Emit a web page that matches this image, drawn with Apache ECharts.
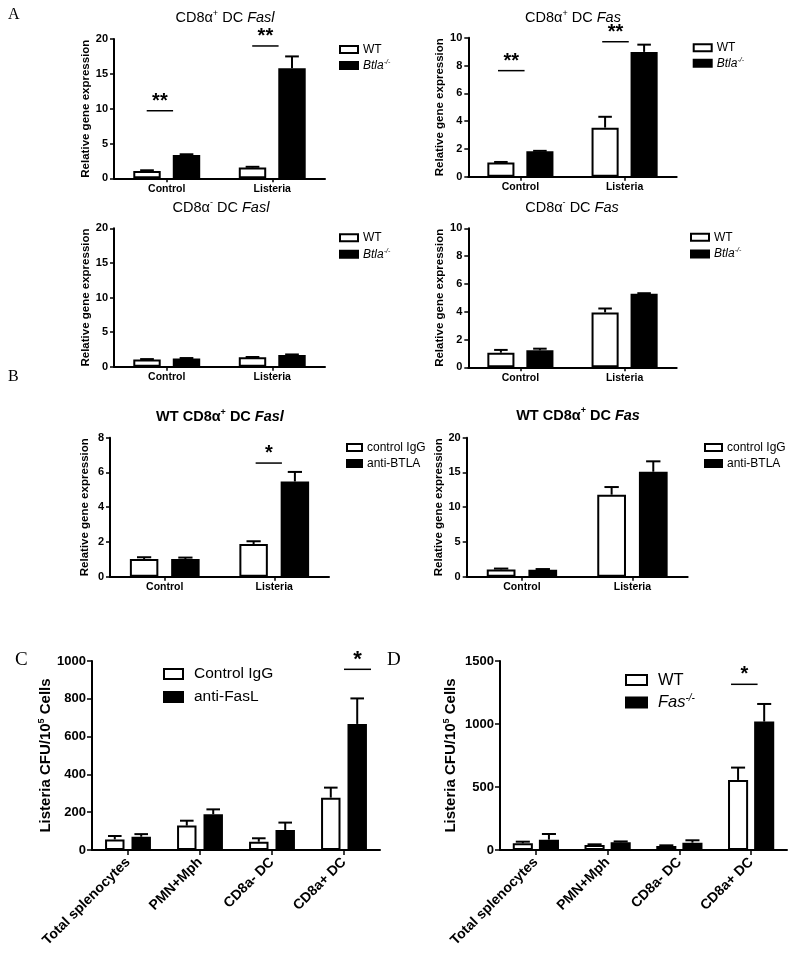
<!DOCTYPE html>
<html><head><meta charset="utf-8">
<script src="https://cdn.jsdelivr.net/npm/echarts@6/dist/echarts.min.js"></script>
<style>html,body{margin:0;padding:0;background:#fff}#c{width:795px;height:960px}</style>
</head><body><div id="c"></div>
<script>
// ---------- data ----------
const catsAB = ['Control', 'Listeria'];
const catsCD = ['Total splenocytes', 'PMN+Mph', 'CD8a- DC', 'CD8a+ DC'];

// A1: CD8a+ DC Fasl
const a1Wt = [1.05, 1.55], a1WtErr = [0.1, 0.1];
const a1Ko = [3.35, 15.8], a1KoErr = [0.1, 1.7];
const a1Sig = [[0, 9.7, '**'], [1, 19.0, '**']];
// A2: CD8a+ DC Fas
const a2Wt = [1.03, 3.53], a2WtErr = [0.03, 0.78];
const a2Ko = [1.83, 8.98], a2KoErr = [0.03, 0.52];
const a2Sig = [[0, 7.63, '**'], [1, 9.71, '**']];
// A3: CD8a- DC Fasl
const a3Wt = [1.05, 1.35], a3WtErr = [0.05, 0.05];
const a3Ko = [1.2, 1.7], a3KoErr = [0.05, 0.07];
// A4: CD8a- DC Fas
const a4Wt = [1.05, 3.95], a4WtErr = [0.2, 0.28];
const a4Ko = [1.22, 5.3], a4KoErr = [0.12, 0.03];
// B1: WT CD8a+ DC Fasl
const b1Ctl = [1.02, 1.88], b1CtlErr = [0.1, 0.16];
const b1Ab = [1.02, 5.48], b1AbErr = [0.08, 0.55];
const b1Sig = [[1, 6.54, '*']];
// B2: WT CD8a+ DC Fas
const b2Ctl = [1.05, 11.8], b2CtlErr = [0.12, 1.1];
const b2Ab = [1.0, 15.1], b2AbErr = [0.1, 1.5];
// C
const cCtl = [56, 129, 44, 277], cCtlErr = [18, 26, 18, 53];
const cAb = [70, 189, 106, 667], cAbErr = [14, 26, 39, 135];
const cSig = [[3, 956, '*']];
// D
const dWt = [53, 40, 32, 556], dWtErr = [13, 5, 5, 98];
const dKo = [82, 61, 58, 1019], dKoErr = [45, 7, 19, 140];
const dSig = [[3, 1315, '*']];

// ---------- helpers ----------
const F = 'Liberation Sans, Arial, sans-serif';
const FS = 'Liberation Serif, Times New Roman, serif';

function errItem(side, bwF, gapF, capF) {
  return function (params, api) {
    const c = api.value(0), v = api.value(1), e = api.value(2);
    const band = api.size([1, 0])[0];
    const bw = band * bwF;
    const x = api.coord([c, 0])[0] + side * bw * (1 + gapF) / 2;
    const y0 = api.coord([c, v])[1], y1 = api.coord([c, v + e])[1];
    const hc = bw * capF / 2;
    return { type: 'group', children: [
      { type: 'line', shape: { x1: x, y1: y0, x2: x, y2: y1 }, style: { stroke: '#000', lineWidth: 2 } },
      { type: 'line', shape: { x1: x - hc, y1: y1, x2: x + hc, y2: y1 }, style: { stroke: '#000', lineWidth: 2 } }
    ] };
  };
}
function sigItem(sig, f1, f2, fs, dy) {
  return function (params, api) {
    const c = api.value(0), y = api.value(1);
    const band = api.size([1, 0])[0];
    const cx = api.coord([c, 0])[0];
    const yy = api.coord([c, y])[1];
    const x1 = cx + f1 * band, x2 = cx + f2 * band;
    return { type: 'group', children: [
      { type: 'line', shape: { x1: x1, y1: yy, x2: x2, y2: yy }, style: { stroke: '#000', lineWidth: 1.5 } },
      { type: 'text', x: (x1 + x2) / 2, y: yy - dy, style: { text: sig[params.dataIndex][2], align: 'center', verticalAlign: 'middle', font: 'bold ' + fs + 'px ' + F, fill: '#000' } }
    ] };
  };
}

const panels = [
  { grid: { left: 114, top: 39, width: 211, height: 139.3 }, cats: catsAB, max: 20, interval: 5,
    n1: 'WT', d1: a1Wt, e1: a1WtErr, n2: 'Btla-/-', d2: a1Ko, e2: a1KoErr, sig: a1Sig, sf: [-0.19, 0.06], sfs: 20,
    bw: 0.26, gap: 0.44, cap: 0.5, type: 'A', ng: 19 },
  { grid: { left: 468.3, top: 37.7, width: 208.4, height: 139 }, cats: catsAB, max: 10, interval: 2,
    n1: 'WT', d1: a2Wt, e1: a2WtErr, n2: 'Btla-/-', d2: a2Ko, e2: a2KoErr, sig: a2Sig, sf: [-0.215, 0.04], sfs: 20,
    bw: 0.26, gap: 0.44, cap: 0.5, type: 'A', ng: 20 },
  { grid: { left: 114, top: 228.3, width: 211, height: 138.4 }, cats: catsAB, max: 20, interval: 5,
    n1: 'WT', d1: a3Wt, e1: a3WtErr, n2: 'Btla-/-', d2: a3Ko, e2: a3KoErr, sig: null,
    bw: 0.26, gap: 0.44, cap: 0.5, type: 'A', ng: 19 },
  { grid: { left: 468.3, top: 228.3, width: 208.4, height: 139 }, cats: catsAB, max: 10, interval: 2,
    n1: 'WT', d1: a4Wt, e1: a4WtErr, n2: 'Btla-/-', d2: a4Ko, e2: a4KoErr, sig: null,
    bw: 0.26, gap: 0.44, cap: 0.5, type: 'A', ng: 20 },
  { grid: { left: 110, top: 437.7, width: 219, height: 139 }, cats: catsAB, max: 8, interval: 2,
    n1: 'control IgG', d1: b1Ctl, e1: b1CtlErr, n2: 'anti-BTLA', d2: b1Ab, e2: b1AbErr, sig: b1Sig, sf: [-0.17, 0.07], sfs: 20,
    bw: 0.26, gap: 0.45, cap: 0.5, type: 'A', ng: 19 },
  { grid: { left: 466.7, top: 437.7, width: 221, height: 139 }, cats: catsAB, max: 20, interval: 5,
    n1: 'control IgG', d1: b2Ctl, e1: b2CtlErr, n2: 'anti-BTLA', d2: b2Ab, e2: b2AbErr, sig: null,
    bw: 0.26, gap: 0.45, cap: 0.5, type: 'A', ng: 19 },
  { grid: { left: 92, top: 661, width: 288, height: 189 }, cats: catsCD, max: 1000, interval: 200,
    n1: 'Control IgG', d1: cCtl, e1: cCtlErr, n2: 'anti-FasL', d2: cAb, e2: cAbErr, sig: cSig, sf: [0.0, 0.375], sfs: 22,
    bw: 0.27, gap: 0.36, cap: 0.7, type: 'C', ng: 37 },
  { grid: { left: 500, top: 661, width: 287, height: 189 }, cats: catsCD, max: 1500, interval: 500,
    n1: 'WT', d1: dWt, e1: dWtErr, n2: 'Fas-/-', d2: dKo, e2: dKoErr, sig: dSig, sf: [-0.28, 0.09], sfs: 20,
    bw: 0.28, gap: 0.30, cap: 0.7, type: 'C', ng: 40 }
];

const grids = [], xAxes = [], yAxes = [], series = [];
panels.forEach((p, i) => {
  const isA = p.type === 'A';
  grids.push(Object.assign({ containLabel: false, outerBoundsMode: 'none' }, p.grid));
  xAxes.push({
    gridIndex: i, type: 'category', data: p.cats,
    axisLine: { show: true, lineStyle: { color: '#000', width: 2 } },
    axisTick: { show: true, alignWithLabel: true, interval: 0, length: isA ? 4 : 5, lineStyle: { color: '#000', width: 1.5 } },
    axisLabel: { interval: 0, color: '#000', fontWeight: 'bold', fontFamily: F, fontSize: isA ? 10.5 : 14, margin: isA ? 5 : 10, rotate: isA ? 0 : 45 },
    splitLine: { show: false }
  });
  const yName = isA ? 'Relative gene expression' : '{b|Listeria CFU/10}{s|5}{b| Cells}';
  yAxes.push({
    gridIndex: i, type: 'value', min: 0, max: p.max, interval: p.interval,
    axisLine: { show: true, lineStyle: { color: '#000', width: 2 } },
    axisTick: { show: true, length: isA ? 4 : 5, lineStyle: { color: '#000', width: 1.5 } },
    axisLabel: { color: '#000', fontWeight: 'bold', fontFamily: F, fontSize: isA ? 11 : 13, margin: 6,
      formatter: function (v) { return String(v); } },
    splitLine: { show: false },
    name: yName, nameLocation: 'middle', nameGap: p.ng,
    nameTextStyle: isA
      ? { color: '#000', fontWeight: 'bold', fontFamily: F, fontSize: 11.5 }
      : { color: '#000', fontFamily: F, rich: {
          b: { fontWeight: 'bold', fontFamily: F, fontSize: 15, lineHeight: 18, color: '#000' },
          s: { fontWeight: 'bold', fontFamily: F, fontSize: 9, lineHeight: 9, verticalAlign: 'top', color: '#000' } } }
  });
  const wBW = (p.bw * 100) + '%', gBW = (p.gap * 100) + '%';
  series.push({ type: 'bar', name: p.n1, xAxisIndex: i, yAxisIndex: i, data: p.d1, barWidth: wBW, barGap: gBW,
    itemStyle: { color: '#fff', borderColor: '#000', borderWidth: 2 }, emphasis: { disabled: true } });
  series.push({ type: 'bar', name: p.n2, xAxisIndex: i, yAxisIndex: i, data: p.d2, barWidth: wBW, barGap: gBW,
    itemStyle: { color: '#000', borderColor: '#000', borderWidth: 2 }, emphasis: { disabled: true } });
  series.push({ type: 'custom', name: 'err1_' + i, xAxisIndex: i, yAxisIndex: i, clip: false,
    data: p.d1.map((v, k) => [k, v, p.e1[k]]), renderItem: errItem(-1, p.bw, p.gap, p.cap), z: 3 });
  series.push({ type: 'custom', name: 'err2_' + i, xAxisIndex: i, yAxisIndex: i, clip: false,
    data: p.d2.map((v, k) => [k, v, p.e2[k]]), renderItem: errItem(1, p.bw, p.gap, p.cap), z: 3 });
  if (p.sig) {
    series.push({ type: 'custom', name: 'sig_' + i, xAxisIndex: i, yAxisIndex: i, clip: false,
      data: p.sig.map(s => [s[0], s[1]]), renderItem: sigItem(p.sig, p.sf[0], p.sf[1], p.sfs, 9.5), z: 3 });
  }
});

// legends
function leg(name, x, cy, fs, iw, ih, lh, pad) {
  const base = name.replace('-/-', '');
  const isSup = name.endsWith('-/-');
  return {
    show: true, orient: 'vertical', left: x, top: cy - lh / 2, padding: 0, itemGap: 0,
    data: [name], itemWidth: iw, itemHeight: ih, selectedMode: false, icon: 'rect',
    formatter: isSup ? ('{i|' + base + '}{s|-/-}') : name,
    textStyle: { color: '#000', fontFamily: F, fontSize: fs, lineHeight: lh, padding: [0, 0, 0, pad],
      rich: {
        i: { fontStyle: 'italic', fontFamily: F, fontSize: fs, lineHeight: lh, color: '#000' },
        s: { fontStyle: 'italic', fontFamily: F, fontSize: Math.round(fs * 0.6), lineHeight: Math.round(fs * 0.6), verticalAlign: 'top', color: '#000' }
      } }
  };
}
const legends = [
  leg('WT', 339, 49.5, 12, 18, 7, 14, 0), leg('Btla-/-', 339, 65.5, 12, 18, 7, 14, 0),
  leg('WT', 692.7, 47.8, 12, 18, 7, 14, 0), leg('Btla-/-', 692.7, 63.3, 12, 18, 7, 14, 0),
  leg('WT', 339, 237.8, 12, 18, 7, 14, 0), leg('Btla-/-', 339, 254.2, 12, 18, 7, 14, 0),
  leg('WT', 690, 237.2, 12, 18, 7, 14, 0), leg('Btla-/-', 690, 254, 12, 18, 7, 14, 0),
  leg('control IgG', 346, 447.5, 12, 15, 7, 14, 0), leg('anti-BTLA', 346, 463.5, 12, 15, 7, 14, 0),
  leg('control IgG', 704, 447.5, 12, 17, 7, 14, 0), leg('anti-BTLA', 704, 463.5, 12, 17, 7, 14, 0),
  leg('Control IgG', 163, 674, 15.5, 19, 10, 18, 6), leg('anti-FasL', 163, 697, 15.5, 19, 10, 18, 6),
  leg('WT', 625, 680, 16.5, 21, 10, 19, 6), leg('Fas-/-', 625, 702.5, 16.5, 21, 10, 19, 6)
];

// titles & panel letters
const richT = (bold) => ({
  n: { fontFamily: F, fontSize: 14.5, fontWeight: bold ? 'bold' : 'normal', lineHeight: 18, fill: '#000' },
  s: { fontFamily: F, fontSize: 9, fontWeight: bold ? 'bold' : 'normal', lineHeight: 9, verticalAlign: 'top', fill: '#000' },
  i: { fontFamily: F, fontSize: 14.5, fontStyle: 'italic', fontWeight: bold ? 'bold' : 'normal', lineHeight: 18, fill: '#000' }
});
function title(text, x, y, bold) {
  return { type: 'text', x: x, y: y, style: { text: text, align: 'center', verticalAlign: 'middle', rich: richT(bold), fill: '#000' } };
}
const graphics = [
  title('{n|CD8α}{s|+}{n| DC }{i|Fasl}', 225, 18, false),
  title('{n|CD8α}{s|+}{n| DC }{i|Fas}', 573, 18, false),
  title('{n|CD8α}{s|-}{n| DC }{i|Fasl}', 221, 207.5, false),
  title('{n|CD8α}{s|-}{n| DC }{i|Fas}', 572, 207.5, false),
  title('{n|WT CD8α}{s|+}{n| DC }{i|Fasl}', 220, 417, true),
  title('{n|WT CD8α}{s|+}{n| DC }{i|Fas}', 578, 415.5, true),
  { type: 'text', x: 8, y: 7, style: { text: 'A', font: '16px ' + FS, fill: '#000' } },
  { type: 'text', x: 8, y: 369, style: { text: 'B', font: '16px ' + FS, fill: '#000' } },
  { type: 'text', x: 15, y: 651, style: { text: 'C', font: '19px ' + FS, fill: '#000' } },
  { type: 'text', x: 387, y: 651, style: { text: 'D', font: '19px ' + FS, fill: '#000' } }
];

const chart = echarts.init(document.getElementById('c'), null, { renderer: 'canvas' });
chart.setOption({
  backgroundColor: '#fff',
  animation: false,
  tooltip: { show: false },
  grid: grids, xAxis: xAxes, yAxis: yAxes, series: series,
  legend: legends,
  graphic: graphics
});
</script></body></html>
